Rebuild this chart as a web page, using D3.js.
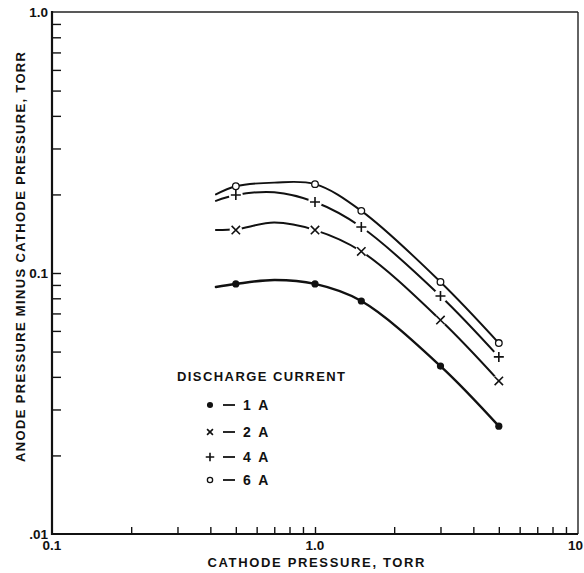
<!DOCTYPE html>
<html>
<head>
<meta charset="utf-8">
<script src="https://cdn.jsdelivr.net/npm/d3@7"></script>
<style>
  html, body { margin: 0; padding: 0; background: #fff; }
  svg { display: block; }
  text { font-family: "Liberation Sans", Arial, sans-serif; font-weight: bold; fill: #111; }
</style>
</head>
<body>
<svg id="chart" width="584" height="573"></svg>
<script>
// Cathode pressure (torr) at which the pressure difference was measured
const cathodePressure = [0.5, 1.0, 1.5, 3.0, 5.0];

// Anode minus cathode pressure (torr) for each discharge current
const current1A = [0.0908, 0.0908, 0.0781, 0.0440, 0.0259];
const current2A = [0.146, 0.146, 0.121, 0.0660, 0.0386];
const current4A = [0.199, 0.187, 0.150, 0.0816, 0.0477];
const current6A = [0.215, 0.219, 0.173, 0.0924, 0.0539];

// Nodes of the smoothed curve drawn through each set of measurements
const fitPressure = [0.42, 0.5, 0.7, 1.0, 1.5, 3.0, 5.0];
const fit1A = [0.0884, 0.0908, 0.0940, 0.0908, 0.0781, 0.0440, 0.0259];
const fit2A = [0.146, 0.147, 0.156, 0.146, 0.121, 0.0660, 0.0386];
const fit4A = [0.189, 0.199, 0.204, 0.187, 0.150, 0.0816, 0.0477];
const fit6A = [0.200, 0.215, 0.222, 0.219, 0.173, 0.0924, 0.0539];

const seriesLabels = ["1 A", "2 A", "4 A", "6 A"];
const seriesSymbols = ["dot", "cross", "plus", "ring"];

const xTickLabels = ["0.1", "1.0", "10"];
const xTickValues = [0.1, 1, 10];
const yTickLabels = [".01", "0.1", "1.0"];
const yTickValues = [0.01, 0.1, 1];

const xTitle = "CATHODE PRESSURE, TORR";
const yTitle = "ANODE PRESSURE MINUS CATHODE PRESSURE, TORR";
const legendTitle = "DISCHARGE CURRENT";

const series = [
  { label: seriesLabels[0], symbol: seriesSymbols[0], values: current1A, fit: fit1A, width: 2.4 },
  { label: seriesLabels[1], symbol: seriesSymbols[1], values: current2A, fit: fit2A, width: 2.0 },
  { label: seriesLabels[2], symbol: seriesSymbols[2], values: current4A, fit: fit4A, width: 2.0 },
  { label: seriesLabels[3], symbol: seriesSymbols[3], values: current6A, fit: fit6A, width: 1.9 }
];

const svg = d3.select("#chart");
const plot = { left: 52, right: 578, top: 12, bottom: 534 };

const x = d3.scaleLog().domain([0.1, 10]).range([plot.left, plot.right]);
const y = d3.scaleLog().domain([0.01, 1]).range([plot.bottom, plot.top]);

// minor ticks 2..9 in each decade, pointing into the plot
const minorTicks = [];
for (const decade of [0.1, 1]) for (let k = 2; k <= 9; k++) minorTicks.push(+(decade * k).toPrecision(3));
const yMinor = [];
for (const decade of [0.01, 0.1]) for (let k = 2; k <= 9; k++) yMinor.push(+(decade * k).toPrecision(3));

const xAxis = d3.axisBottom(x).tickValues(minorTicks.concat([1])).tickSize(-7).tickFormat("");
const yAxis = d3.axisLeft(y).tickValues(yMinor.concat([0.1])).tickSize(-9).tickFormat("");

const gx = svg.append("g").attr("transform", `translate(0,${plot.bottom})`).call(xAxis);
const gy = svg.append("g").attr("transform", `translate(${plot.left},0)`).call(yAxis);
gx.select(".domain").remove();
gy.select(".domain").remove();
gx.selectAll(".tick line").attr("stroke", "#111").attr("stroke-width", 1.4);
gy.selectAll(".tick line").attr("stroke", "#111").attr("stroke-width", 1.4);

// frame
svg.append("line").attr("x1", plot.left).attr("x2", plot.right).attr("y1", plot.top).attr("y2", plot.top)
  .attr("stroke", "#222").attr("stroke-width", 1.4);
svg.append("line").attr("x1", plot.right).attr("x2", plot.right).attr("y1", plot.top).attr("y2", plot.bottom)
  .attr("stroke", "#222").attr("stroke-width", 1.4);
svg.append("line").attr("x1", plot.left).attr("x2", plot.right).attr("y1", plot.bottom).attr("y2", plot.bottom)
  .attr("stroke", "#111").attr("stroke-width", 2);
svg.append("line").attr("x1", plot.left).attr("x2", plot.left).attr("y1", plot.top - 1).attr("y2", plot.bottom + 1)
  .attr("stroke", "#111").attr("stroke-width", 2.2);

// tick labels (the last x label is kept inside the right edge)
svg.selectAll(".ylab").data(yTickValues).enter().append("text")
  .attr("x", plot.left - 4).attr("y", d => y(d)).attr("dy", "0.35em")
  .attr("text-anchor", "end").style("font-size", "13.5px")
  .text((d, i) => yTickLabels[i]);
svg.selectAll(".xlab").data(xTickValues).enter().append("text")
  .attr("x", (d, i) => i === xTickValues.length - 1 ? 583 : x(d)).attr("y", plot.bottom + 16)
  .attr("text-anchor", (d, i) => i === xTickValues.length - 1 ? "end" : "middle")
  .style("font-size", "13.5px")
  .text((d, i) => xTickLabels[i]);

// axis titles
svg.append("text").attr("x", 316).attr("y", 567).attr("text-anchor", "middle")
  .attr("textLength", 217).attr("lengthAdjust", "spacing")
  .style("font-size", "13px").text(xTitle);
svg.append("text").attr("transform", "translate(25,257) rotate(-90)").attr("text-anchor", "middle")
  .attr("textLength", 410).attr("lengthAdjust", "spacing")
  .style("font-size", "13px").text(yTitle);

// smoothed curves
const line = d3.line()
  .x((d, i) => x(fitPressure[i]))
  .y(d => y(d))
  .curve(d3.curveCatmullRom.alpha(0.5));

svg.append("g").selectAll("path").data(series).enter().append("path")
  .attr("d", s => line(s.fit))
  .attr("fill", "none").attr("stroke", "#111")
  .attr("stroke-width", s => s.width).attr("stroke-linecap", "round");

// marker drawing; k scales the symbol
function drawSymbol(g, symbol, cx, cy, halo, k) {
  if (symbol === "dot") {
    g.append("circle").attr("cx", cx).attr("cy", cy).attr("r", 3.6 * k).attr("fill", "#111");
  } else if (symbol === "ring") {
    g.append("circle").attr("cx", cx).attr("cy", cy).attr("r", 3.3 * k)
      .attr("fill", "#fff").attr("stroke", "#111").attr("stroke-width", 1.3);
  } else {
    const s = (symbol === "cross" ? 4.2 : 5) * k;
    const d = symbol === "cross"
      ? `M${cx - s},${cy - s}L${cx + s},${cy + s}M${cx - s},${cy + s}L${cx + s},${cy - s}`
      : `M${cx - s},${cy}L${cx + s},${cy}M${cx},${cy - s}L${cx},${cy + s}`;
    if (halo) g.append("circle").attr("cx", cx).attr("cy", cy).attr("r", s + 2).attr("fill", "#fff");
    g.append("path").attr("d", d).attr("stroke", "#111").attr("stroke-width", 1.6).attr("fill", "none");
  }
}

const markers = svg.append("g");
series.forEach(s => {
  s.values.forEach((v, i) => drawSymbol(markers, s.symbol, x(cathodePressure[i]), y(v), true, 1));
});

// legend
const legend = svg.append("g");
legend.append("text").attr("x", 177).attr("y", 381)
  .attr("textLength", 168).attr("lengthAdjust", "spacing")
  .style("font-size", "13px").text(legendTitle);
const legendY = [405, 432, 457, 480];
const legendScale = [0.85, 0.7, 0.85, 0.8];
series.forEach((s, i) => {
  const ly = legendY[i];
  drawSymbol(legend, s.symbol, 210, ly, false, legendScale[i]);
  legend.append("line").attr("x1", 223).attr("x2", 235).attr("y1", ly).attr("y2", ly)
    .attr("stroke", "#111").attr("stroke-width", 1.8);
  legend.append("text").attr("x", 243).attr("y", ly).attr("dy", "0.36em")
    .style("font-size", "14px").style("letter-spacing", "2px").text(s.label);
});
</script>
</body>
</html>
